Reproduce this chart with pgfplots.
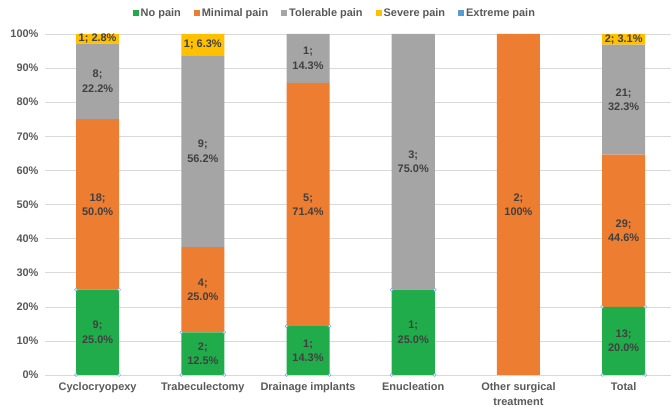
\documentclass[border=0pt]{standalone}
\usepackage{pgfplots}
\pgfplotsset{compat=1.18}
\usepackage{fontspec}
\setmainfont{Liberation Sans}
\definecolor{cgreen}{HTML}{21AC4B}
\definecolor{corange}{HTML}{ED7D31}
\definecolor{cgray}{HTML}{A5A5A5}
\definecolor{cyellow}{HTML}{FFC000}
\definecolor{cblue}{HTML}{5B9BD5}
\definecolor{ctext}{HTML}{595959}
\definecolor{clabel}{HTML}{404040}
\definecolor{cgrid}{HTML}{D9D9D9}
\definecolor{chandle}{HTML}{6FA8DC}
\protected\def\nl{\\}
\protected\def\pct{\%}
\protected\def\sc{;}
\begin{document}
\begin{tikzpicture}
\path[use as bounding box] (0,0) rectangle (672bp,409bp);
\pgfplotsset{
  common/.style={
    at={(45bp,34bp)}, anchor=south west,
    scale only axis, width=626bp, height=341bp,
    xmin=-0.5, xmax=5.45, ymin=0, ymax=100,
  }
}
\begin{axis}[common,
  ybar stacked, bar width=0.409,
  axis x line*=bottom, axis y line*=left,
  x axis line style={cgrid, line width=0.6pt},
  y axis line style={draw=none},
  xtick={0,1,2,3,4,5},
  xticklabels={Cyclocryopexy,Trabeculectomy,Drainage implants,Enucleation,Other surgical\\treatment,Total},
  xticklabel style={align=center, font=\fontsize{11}{15.5}\selectfont\bfseries, text=ctext, yshift=-4bp},
  major x tick style={draw=none},
  ytick={0,10,...,100},
  yticklabel={\pgfmathprintnumber{\tick}\%},
  /pgf/number format/assume math mode=true,
  yticklabel style={font=\fontsize{11}{13}\selectfont\bfseries, text=ctext, xshift=-3bp},
  ymajorgrids, grid style={cgrid, line width=0.6pt},
  major y tick style={draw=none},
  legend style={at={(0.463,1.088)}, anchor=north, legend columns=-1, draw=none,
    font=\fontsize{11}{13}\selectfont\bfseries, text=ctext,
    /tikz/every even column/.append style={column sep=11bp}},
  legend image code/.code={\fill[#1] (0bp,-3bp) rectangle (6bp,3bp);},
]
\addplot[fill=cgreen, draw=none] coordinates {(0,25.0) (1,12.5) (2,14.3) (3,25.0) (4,0) (5,20.0)};
\addplot[fill=corange, draw=none] coordinates {(0,50.0) (1,25.0) (2,71.4) (3,0) (4,100) (5,44.6)};
\addplot[fill=cgray, draw=none] coordinates {(0,22.2) (1,56.2) (2,14.3) (3,75.0) (4,0) (5,32.3)};
\addplot[fill=cyellow, draw=none] coordinates {(0,2.8) (1,6.3) (2,0) (3,0) (4,0) (5,3.1)};
\addplot[fill=cblue, draw=none] coordinates {(0,0) (1,0) (2,0) (3,0) (4,0) (5,0)};
\legend{No pain,Minimal pain,Tolerable pain,Severe pain,Extreme pain}
\end{axis}
\begin{axis}[common, hide axis]
\addplot[draw=none, nodes near coords, point meta=explicit symbolic,
  every node near coord/.append style={anchor=center, align=center,
    font=\fontsize{11}{14.5}\selectfont\bfseries, text=clabel, inner sep=0pt}]
coordinates {
(0,12.5) [9\sc\nl 25.0\pct]
(0,50) [18\sc\nl 50.0\pct]
(0,86.1) [8\sc\nl 22.2\pct]
(0,98.6) [1\sc{} 2.8\pct]
(1,6.25) [2\sc\nl 12.5\pct]
(1,25) [4\sc\nl 25.0\pct]
(1,65.6) [9\sc\nl 56.2\pct]
(1,96.85) [1\sc{} 6.3\pct]
(2,7.15) [1\sc\nl 14.3\pct]
(2,50) [5\sc\nl 71.4\pct]
(2,92.85) [1\sc\nl 14.3\pct]
(3,12.5) [1\sc\nl 25.0\pct]
(3,62.5) [3\sc\nl 75.0\pct]
(4,50) [2\sc\nl 100\pct]
(5,10) [13\sc\nl 20.0\pct]
(5,42.3) [29\sc\nl 44.6\pct]
(5,80.75) [21\sc\nl 32.3\pct]
(5,98.45) [2\sc{} 3.1\pct]
};
\addplot[only marks, mark=*, mark size=1.5pt, mark options={draw=chandle, fill=white, line width=0.5pt}]
coordinates {
(-0.2045,0) (0.2045,0) (-0.2045,25) (0.2045,25)
(0.7955,0) (1.2045,0) (0.7955,12.5) (1.2045,12.5)
(1.7955,0) (2.2045,0) (1.7955,14.3) (2.2045,14.3)
(2.7955,0) (3.2045,0) (2.7955,25) (3.2045,25)
(4.7955,0) (5.2045,0) (4.7955,20) (5.2045,20)
};
\end{axis}
\end{tikzpicture}
\end{document}
